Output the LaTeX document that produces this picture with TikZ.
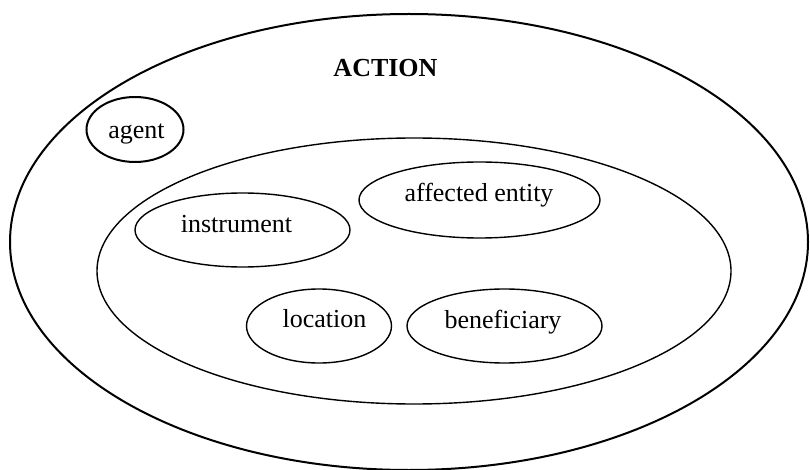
\documentclass[tikz,border=0pt]{standalone}
\usepackage{fontspec}
\setmainfont{Liberation Serif}
\usetikzlibrary{shapes.geometric}
\begin{document}
\begin{tikzpicture}[x=1pt,y=-1pt,
  ell/.style={draw, ellipse, inner sep=0pt, line width=1.4pt},
  lbl/.style={font=\fontsize{26}{30}\selectfont, inner sep=0pt, anchor=base}]
\useasboundingbox (0,0) rectangle (810,470);
\node[ell, line width=2pt, minimum width=798pt, minimum height=456pt] (outer) at (409,242) {};
\node[ell, minimum width=634pt, minimum height=266pt] (inner) at (414,271) {};
\node[ell, line width=2pt, minimum width=97pt, minimum height=65pt] (agent) at (135,129.5) {};
\node[ell, minimum width=215pt, minimum height=74pt] (instrument) at (242.5,230) {};
\node[ell, minimum width=241pt, minimum height=76pt] (affected) at (479.5,200) {};
\node[ell, minimum width=145pt, minimum height=74pt] (location) at (319,326) {};
\node[ell, minimum width=195pt, minimum height=74pt] (beneficiary) at (504.5,326) {};
\node[lbl, font=\fontsize{26}{30}\selectfont\bfseries] (action-t) at (385.5,77) {ACTION};
\node[lbl] (agent-t) at (136.5,139) {agent};
\node[lbl] (instrument-t) at (236.5,233) {instrument};
\node[lbl] (affected-t) at (479,201.5) {affected entity};
\node[lbl] (location-t) at (324.5,327) {location};
\node[lbl] (beneficiary-t) at (503,328) {beneficiary};
\end{tikzpicture}
\end{document}
